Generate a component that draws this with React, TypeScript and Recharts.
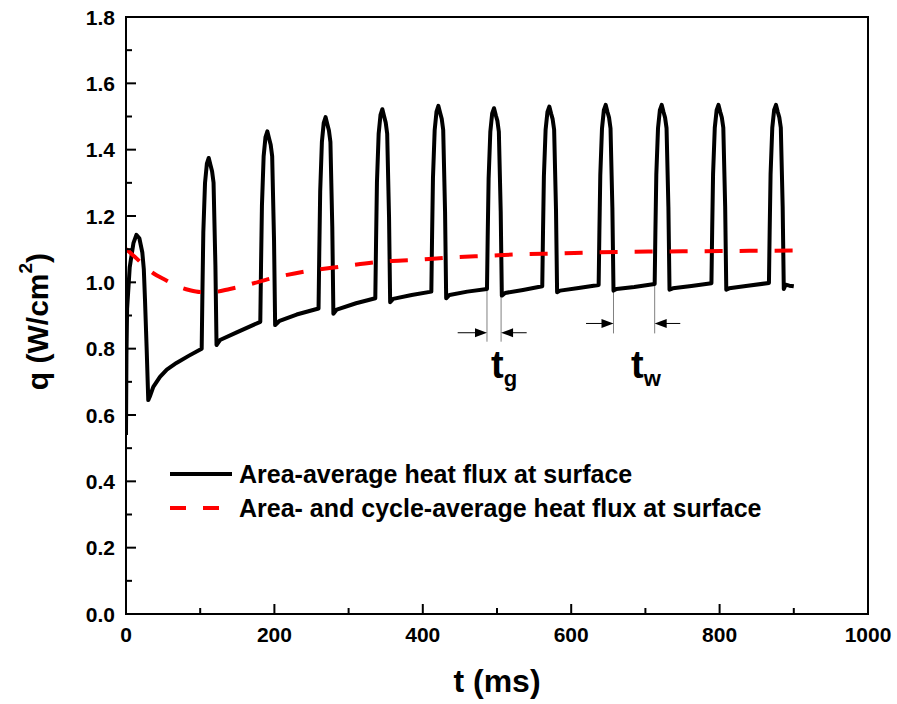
import React from 'react';
import {
  LineChart, Line, XAxis, YAxis, Label, Legend,
  ReferenceLine, ReferenceDot,
} from 'recharts';

const FONT = "'Liberation Sans', Arial, Helvetica, sans-serif";

// axis ticks
const xTicks = [0, 100, 200, 300, 400, 500, 600, 700, 800, 900, 1000];
const xLabelTicks = [0, 200, 400, 600, 800, 1000];
const yTicks = [0, 0.1, 0.2, 0.3, 0.4, 0.5, 0.6, 0.7, 0.8, 0.9, 1.0, 1.1, 1.2, 1.3, 1.4, 1.5, 1.6, 1.7, 1.8];

// area-average heat flux [t (ms), q (W/cm2)]
const areaAvgPoints = [
  [0, 0.54], [0.6, 0.78], [1.5, 0.92], [5, 1.045], [10, 1.118], [14, 1.143], [18, 1.133], [22, 1.09], [24, 1.04], [25.6, 0.947], [27.9, 0.796], [30, 0.645],
  [32, 0.655], [36.8, 0.685], [45.8, 0.715], [55, 0.737], [68, 0.757], [85, 0.779], [102, 0.8],
  [103, 0.97], [104.2, 1.15], [106.5, 1.3], [109, 1.358], [111.5, 1.375], [114, 1.352], [116, 1.335], [118, 1.3], [120.5, 1.05], [122, 0.811],
  [126.7, 0.826], [150, 0.85], [181, 0.881],
  [182, 1.053], [183.2, 1.231], [185.5, 1.38], [188, 1.438], [190.5, 1.455], [193, 1.432], [195, 1.415], [197, 1.38], [199.5, 1.128], [201, 0.871],
  [207, 0.884], [230, 0.903], [259.5, 0.921],
  [260.5, 1.094], [261.7, 1.273], [264, 1.423], [266.5, 1.481], [269, 1.498], [271.5, 1.475], [273.5, 1.458], [275.5, 1.423], [278, 1.169], [279.5, 0.905],
  [284, 0.918], [310, 0.937], [336, 0.952],
  [337, 1.123], [338.2, 1.3], [340.5, 1.448], [343, 1.505], [345.5, 1.522], [348, 1.499], [350, 1.482], [352, 1.448], [354.5, 1.197], [356, 0.94],
  [360, 0.95], [385, 0.962], [411.5, 0.972],
  [412.5, 1.14], [413.7, 1.314], [416, 1.459], [418.5, 1.515], [421, 1.532], [423.5, 1.51], [425.5, 1.493], [427.5, 1.459], [430, 1.213], [431.5, 0.952],
  [436, 0.962], [460, 0.972], [486.5, 0.98],
  [487.5, 1.144], [488.7, 1.312], [491, 1.454], [493.5, 1.509], [496, 1.525], [498.5, 1.503], [500.5, 1.487], [502.5, 1.454], [505, 1.214], [506.5, 0.96],
  [511, 0.968], [535, 0.977], [561, 0.988],
  [562, 1.151], [563.2, 1.319], [565.5, 1.46], [568, 1.514], [570.5, 1.53], [573, 1.508], [575, 1.492], [577, 1.46], [579.5, 1.221], [581, 0.97],
  [585, 0.975], [610, 0.983], [637, 0.992],
  [638, 1.155], [639.2, 1.323], [641.5, 1.464], [644, 1.519], [646.5, 1.535], [649, 1.513], [651, 1.497], [653, 1.464], [655.5, 1.225], [657, 0.975],
  [661, 0.98], [685, 0.986], [712.5, 0.995],
  [713.5, 1.157], [714.7, 1.324], [717, 1.465], [719.5, 1.519], [722, 1.535], [724.5, 1.513], [726.5, 1.497], [728.5, 1.465], [731, 1.227], [732.5, 0.978],
  [737, 0.982], [762, 0.989], [789, 0.997],
  [790, 1.159], [791.2, 1.326], [793.5, 1.466], [796, 1.519], [798.5, 1.535], [801, 1.513], [803, 1.497], [805, 1.466], [807.5, 1.229], [809, 0.978],
  [813, 0.982], [838, 0.99], [866.5, 0.998],
  [867.5, 1.159], [868.7, 1.326], [871, 1.466], [873.5, 1.52], [876, 1.535], [878.5, 1.513], [880.5, 1.497], [882.5, 1.466], [885, 1.229], [886.5, 0.98],
  [889, 0.993], [894, 0.99], [900, 0.988],
];

// area- and cycle-average heat flux
const cycleAvgPoints = [
  [0, 1.1], [8, 1.085], [19, 1.062], [35, 1.03], [55, 1.005], [68, 0.99], [85, 0.977], [100, 0.971], [118, 0.971],
  [140, 0.98], [160, 0.99], [198, 1.013], [248, 1.035], [288, 1.047], [342, 1.062], [392, 1.068], [439, 1.075],
  [486, 1.08], [535, 1.085], [580, 1.087], [630, 1.09], [677, 1.092], [724, 1.093], [780, 1.094], [840, 1.095], [910, 1.096],
];

const areaAvg = areaAvgPoints.map(([t, q]) => ({ t, q }));
const cycleAvg = cycleAvgPoints.map(([t, q]) => ({ t, q }));

// bottom ticks; tick 0 also draws the bottom edge of the box (axis width)
const XTick = (props: any) => {
  const { x, y, payload, width } = props;
  const major = xLabelTicks.includes(payload.value);
  return (
    <g>
      {payload.value === 0 && <line x1={x - 1} x2={x + Number(width) + 1} y1={y} y2={y} stroke="#000" strokeWidth={2} />}
      <line x1={x} x2={x} y1={y} y2={y - (major ? 10 : 6)} stroke="#000" strokeWidth={2} />
      {major && (
        <text x={x} y={y + 28} textAnchor="middle" fontFamily={FONT} fontWeight="bold" fontSize={21} fill="#000">
          {payload.value}
        </text>
      )}
    </g>
  );
};

const TopTick = (props: any) => {
  const { x, y, width } = props;
  return <line x1={x - 1} x2={x + Number(width) + 1} y1={y} y2={y} stroke="#000" strokeWidth={2} />;
};

const YTick = (props: any) => {
  const { x, y, payload } = props;
  const major = Math.round(payload.value * 10) % 2 === 0;
  return (
    <g>
      <line x1={x} x2={x + (major ? 10 : 6)} y1={y} y2={y} stroke="#000" strokeWidth={2} />
      {major && (
        <text x={x - 11} y={y} dy="0.36em" textAnchor="end" fontFamily={FONT} fontWeight="bold" fontSize={21} fill="#000">
          {payload.value.toFixed(1)}
        </text>
      )}
    </g>
  );
};

const RightTick = (props: any) => {
  const { x, y, payload } = props;
  const major = Math.round(payload.value * 10) % 2 === 0;
  return <line x1={x} x2={x - (major ? 10 : 6)} y1={y} y2={y} stroke="#000" strokeWidth={2} />;
};

const xTitle = (props: any) => {
  const { x, y, width } = props.viewBox;
  return (
    <text x={x + width / 2} y={y + 78} textAnchor="middle" fontFamily={FONT} fontWeight="bold" fontSize={32} fill="#000">
      t (ms)
    </text>
  );
};

// y title; the axis box also gives the left edge of the plot frame
const yTitle = (props: any) => {
  const { x, y, width, height } = props.viewBox;
  const cx = x + 11;
  const cy = y + height / 2 + 6;
  const edge = x + width;
  return (
    <g>
      <line x1={edge} x2={edge} y1={y - 1} y2={y + height + 1} stroke="#000" strokeWidth={2} />
      <text x={cx} y={cy} transform={`rotate(-90 ${cx} ${cy})`} textAnchor="middle" dominantBaseline="central"
        fontFamily={FONT} fontWeight="bold" fontSize={30} fill="#000">
        q (W/cm<tspan dy={-12} fontSize={19}>2</tspan><tspan dy={12}>)</tspan>
      </text>
    </g>
  );
};

// right edge of the plot frame, from the right axis box
const rightEdge = (props: any) => {
  const { x, y, height } = props.viewBox;
  return <line x1={x} x2={x} y1={y - 1} y2={y + height + 1} stroke="#000" strokeWidth={2} />;
};

const legendBox = () => (
  <svg width={660} height={70}>
    <line x1={10} x2={72} y1={19} y2={19} stroke="#000" strokeWidth={4} />
    <text x={79} y={19} dy="0.36em" fontFamily={FONT} fontWeight="bold" fontSize={25} fill="#000">
      Area-average heat flux at surface
    </text>
    <line x1={10} x2={62} y1={53} y2={53} stroke="#ff0000" strokeWidth={4} strokeDasharray="16 17" />
    <text x={79} y={53} dy="0.36em" fontFamily={FONT} fontWeight="bold" fontSize={25} fill="#000">
      Area- and cycle-average heat flux at surface
    </text>
  </svg>
);

const arrowHead = (dir: number) => (p: any) => (
  <path d={`M${p.cx},${p.cy} L${p.cx - dir * 12},${p.cy - 4.5} L${p.cx - dir * 12},${p.cy + 4.5} Z`} fill="#000" />
);

const subLabel = (sub: string) => (p: any) => (
  <text x={p.cx} y={p.cy} fontFamily={FONT} fontWeight="bold" fontSize={38} fill="#000">
    t<tspan dy={8} fontSize={22}>{sub}</tspan>
  </text>
);

export default function App() {
  return (
    <div style={{ position: 'absolute', left: 0, top: 0, width: 897, height: 704 }}>
      <LineChart width={897} height={704} data={areaAvg} margin={{ top: 16, right: 28, bottom: 30, left: 26 }}>
        <XAxis dataKey="t" type="number" domain={[0, 1000]} ticks={xTicks} interval={0} allowDataOverflow
          height={60} axisLine={false} tickLine={false} tickSize={0} tickMargin={0} tick={<XTick />}>
          <Label content={xTitle} />
        </XAxis>
        <XAxis xAxisId="top" orientation="top" type="number" domain={[0, 1000]} ticks={[0]} height={1}
          axisLine={false} tickLine={false} tickSize={0} tickMargin={0} tick={<TopTick />} />
        <YAxis type="number" domain={[0, 1.8]} ticks={yTicks} interval={0} allowDataOverflow
          width={100} axisLine={false} tickLine={false} tickSize={0} tickMargin={0} tick={<YTick />}>
          <Label content={yTitle} />
        </YAxis>
        <YAxis yAxisId="r" orientation="right" type="number" domain={[0, 1.8]} ticks={yTicks} interval={0}
          width={1} axisLine={false} tickLine={false} tickSize={0} tickMargin={0} tick={<RightTick />}>
          <Label content={rightEdge} />
        </YAxis>

        {/* t_g / t_w markers */}
        <ReferenceLine segment={[{ x: 486.5, y: 0.975 }, { x: 486.5, y: 0.821 }]} stroke="#808080" strokeWidth={1} />
        <ReferenceLine segment={[{ x: 505.5, y: 0.958 }, { x: 505.5, y: 0.821 }]} stroke="#808080" strokeWidth={1} />
        <ReferenceLine segment={[{ x: 447, y: 0.848 }, { x: 480, y: 0.848 }]} stroke="#000" strokeWidth={1} />
        <ReferenceLine segment={[{ x: 540, y: 0.848 }, { x: 512, y: 0.848 }]} stroke="#000" strokeWidth={1} />
        <ReferenceDot x={486.5} y={0.848} r={0} shape={arrowHead(1)} />
        <ReferenceDot x={505.5} y={0.848} r={0} shape={arrowHead(-1)} />

        <ReferenceLine segment={[{ x: 657, y: 0.975 }, { x: 657, y: 0.846 }]} stroke="#808080" strokeWidth={1} />
        <ReferenceLine segment={[{ x: 712.5, y: 0.995 }, { x: 712.5, y: 0.846 }]} stroke="#808080" strokeWidth={1} />
        <ReferenceLine segment={[{ x: 620, y: 0.876 }, { x: 650, y: 0.876 }]} stroke="#000" strokeWidth={1} />
        <ReferenceLine segment={[{ x: 747, y: 0.876 }, { x: 719, y: 0.876 }]} stroke="#000" strokeWidth={1} />
        <ReferenceDot x={657} y={0.876} r={0} shape={arrowHead(1)} />
        <ReferenceDot x={712.5} y={0.876} r={0} shape={arrowHead(-1)} />

        <ReferenceDot x={492} y={0.7115} r={0} shape={subLabel('g')} />
        <ReferenceDot x={680.6} y={0.7115} r={0} shape={subLabel('w')} />

        <Line data={areaAvg} dataKey="q" type="linear" stroke="#000" strokeWidth={4} strokeLinejoin="round"
          dot={false} activeDot={false} isAnimationActive={false} name="Area-average heat flux at surface" />
        <Line data={cycleAvg} dataKey="q" type="monotone" stroke="#ff0000" strokeWidth={4} strokeDasharray="18 17"
          dot={false} activeDot={false} isAnimationActive={false} name="Area- and cycle-average heat flux at surface" />

        <Legend layout="horizontal" verticalAlign="middle" align="center"
          wrapperStyle={{ left: 160, top: 455, width: 660, height: 70 }} content={legendBox} />
      </LineChart>
    </div>
  );
}
